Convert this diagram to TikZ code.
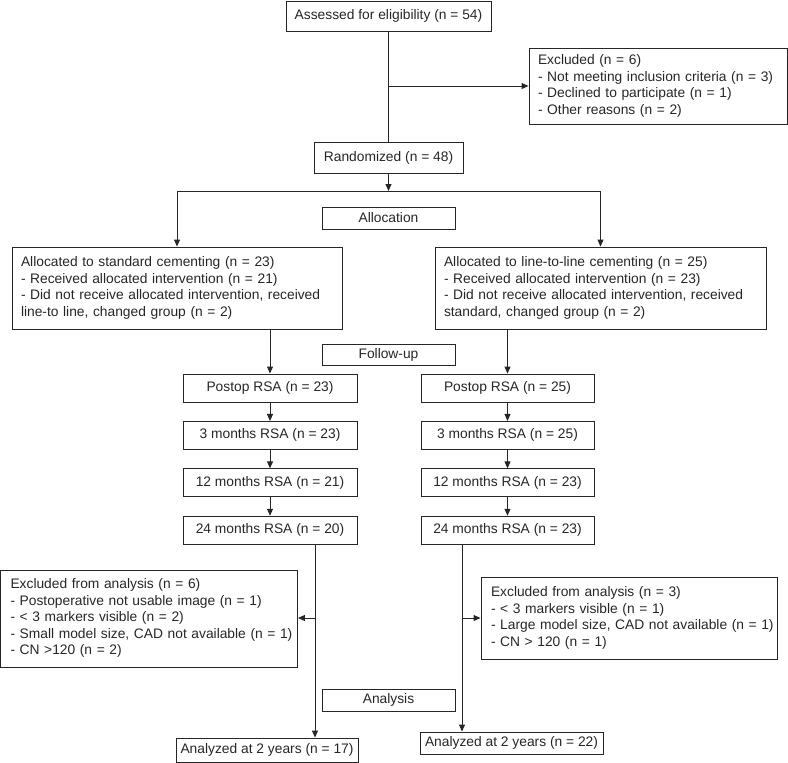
\documentclass[tikz,border=0pt]{standalone}
\usepackage{fontspec}
\setmainfont{Liberation Sans}
\usepackage{tikz}
\usetikzlibrary{positioning,arrows.meta,calc}
\definecolor{FlowInk}{HTML}{262626}

\begin{document}
\begin{tikzpicture}[
    x=1pt, y=-1pt,
    node distance=18.5pt,
    every node/.style={font=\fontsize{13.8}{16.5}\selectfont, text=FlowInk},
    flowbox/.style={
      draw=FlowInk,
      line width=0.9pt,
      inner sep=0pt,
      align=center
    },
    stagebox/.style={
      flowbox,
      minimum width=133pt,
      minimum height=22pt
    },
    rsabox/.style={
      flowbox,
      minimum width=174pt,
      minimum height=28pt
    },
    listbox/.style={
      draw=FlowInk,
      line width=0.9pt,
      inner xsep=9pt,
      inner ysep=0pt,
      text width=#1,
      align=left
    },
    flowline/.style={
      draw=FlowInk,
      line width=0.9pt
    },
    flowarrow/.style={
      flowline,
      -{Triangle[length=7pt,width=6pt]}
    }
  ]

  \useasboundingbox (0,0) rectangle (788,763);

  \node[flowbox, minimum width=205pt, minimum height=30pt] (assess) at (388.5,16) {Assessed for eligibility (n = 54)};
  \node[listbox=240pt, minimum height=76pt] (excl) at (658,86) {\begin{tabular}{@{}l@{}}Excluded (n = 6)\\- Not meeting inclusion criteria (n = 3)\\- Declined to participate (n = 1)\\- Other reasons (n = 2)\end{tabular}};
  \node[flowbox, minimum width=149pt, minimum height=31pt] (rand) at (388.5,157.5) {Randomized (n = 48)};

  \node[stagebox] (alloc) at (388.5,218) {Allocation};
  \node[listbox=312pt, minimum height=82pt] (allocL) at (177,288) {\begin{tabular}{@{}l@{}}Allocated to standard cementing (n = 23)\\- Received allocated intervention (n = 21)\\- Did not receive allocated intervention, received\\line-to line, changed group (n = 2)\end{tabular}};
  \node[listbox=313pt, minimum height=82pt] (allocR) at (600.5,288) {\begin{tabular}{@{}l@{}}Allocated to line-to-line cementing (n = 25)\\- Received allocated intervention (n = 23)\\- Did not receive allocated intervention, received\\standard, changed group (n = 2)\end{tabular}};

  \node[stagebox, minimum height=21pt] (follow) at (388.5,354.5) {Follow-up};
  \node[rsabox] (postL) at (270,388) {Postop RSA (n = 23)};
  \node[rsabox, below=of postL] (m3L) {3 months RSA (n = 23)};
  \node[rsabox, below=of m3L] (m12L) {12 months RSA (n = 21)};
  \node[rsabox, below=of m12L] (m24L) {24 months RSA (n = 20)};
  \node[rsabox, minimum width=173pt] (postR) at (507.5,388) {Postop RSA (n = 25)};
  \node[rsabox, minimum width=173pt, below=of postR] (m3R) {3 months RSA (n = 25)};
  \node[rsabox, minimum width=173pt, below=of m3R] (m12R) {12 months RSA (n = 23)};
  \node[rsabox, minimum width=173pt, below=of m12R] (m24R) {24 months RSA (n = 23)};

  \node[listbox=277pt, inner xsep=10pt, minimum height=97pt] (exanL) at (149,618.5) {\begin{tabular}{@{}l@{}}Excluded from analysis (n = 6)\\- Postoperative not usable image (n = 1)\\- < 3 markers visible (n = 2)\\- Small model size, CAD not available (n = 1)\\- CN >120 (n = 2)\end{tabular}};
  \node[listbox=276pt, inner xsep=10pt, minimum height=82pt] (exanR) at (629,618) {\begin{tabular}{@{}l@{}}Excluded from analysis (n = 3)\\- < 3 markers visible (n = 1)\\- Large model size, CAD not available (n = 1)\\- CN > 120 (n = 1)\end{tabular}};

  \node[stagebox] (analysis) at (388.5,700) {Analysis};
  \node[flowbox, minimum width=182pt, minimum height=24pt] (anaL) at (267,750) {Analyzed at 2 years (n = 17)};
  \node[flowbox, minimum width=183pt, minimum height=22pt] (anaR) at (511.5,743) {Analyzed at 2 years (n = 22)};

  \coordinate (exclTap) at (assess.south |- excl.west);
  \coordinate (split) at (388.5,191);
  \coordinate (sideL) at (315,618);
  \coordinate (sideR) at (462,618);

  \draw[flowline] (assess) -- (rand);
  \draw[flowarrow] (exclTap) -- (excl.west);
  \draw[flowarrow] (rand) -- (split);
  \draw[flowarrow] (split) -| (allocL.north);
  \draw[flowarrow] (split) -| (allocR.north);

  \draw[flowarrow] (allocL.south -| postL.north) -- (postL.north);
  \draw[flowarrow] (postL) -- (m3L);
  \draw[flowarrow] (m3L) -- (m12L);
  \draw[flowarrow] (m12L) -- (m24L);
  \draw[flowarrow] (allocR.south -| postR.north) -- (postR.north);
  \draw[flowarrow] (postR) -- (m3R);
  \draw[flowarrow] (m3R) -- (m12R);
  \draw[flowarrow] (m12R) -- (m24R);

  \draw[flowline] (m24L.south -| sideL) -- (sideL);
  \draw[flowarrow] (sideL) -- (sideL -| exanL.east);
  \draw[flowarrow] (sideL) -- (sideL |- anaL.north);
  \draw[flowline] (m24R.south -| sideR) -- (sideR);
  \draw[flowarrow] (sideR) -- (sideR -| exanR.west);
  \draw[flowarrow] (sideR) -- (sideR |- anaR.north);

\end{tikzpicture}
\end{document}
